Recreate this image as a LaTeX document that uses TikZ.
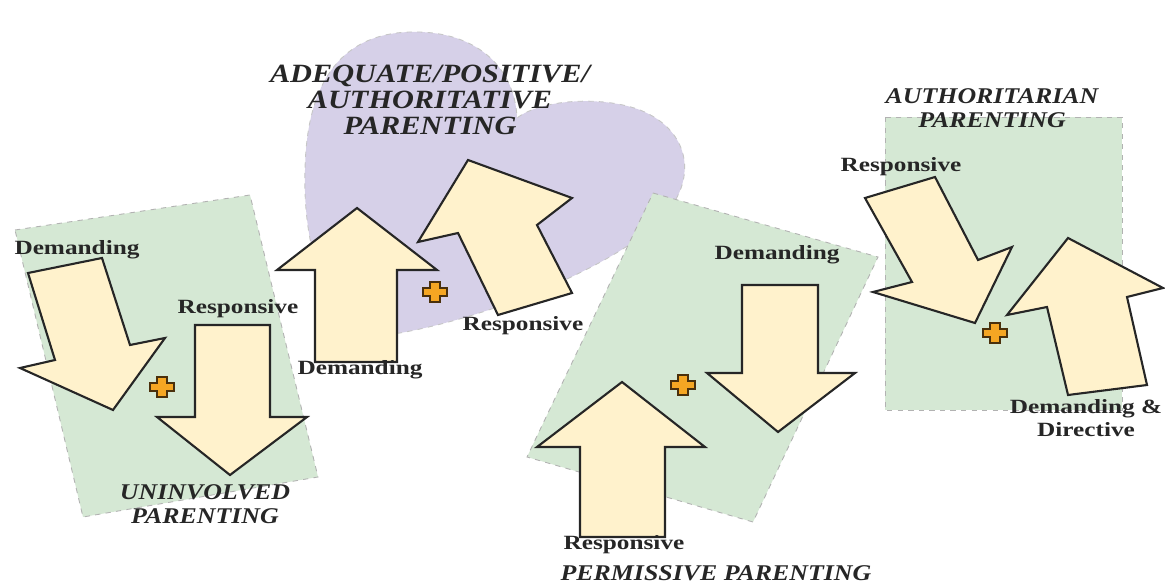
\documentclass[tikz,border=0pt]{standalone}
\usepackage{fontspec}
\setmainfont{Liberation Serif}
\newfontfamily\labelfont[FakeStretch=1.25]{Liberation Serif}
\newfontfamily\titlefont[FakeStretch=1.15]{Liberation Serif}
\usetikzlibrary{positioning}
\definecolor{boxgreen}{HTML}{D5E8D4}
\definecolor{heartlilac}{HTML}{D6D0E8}
\definecolor{arrowcream}{HTML}{FFF2CC}
\definecolor{plusorange}{HTML}{F5A623}
\definecolor{plusbrown}{HTML}{4A300C}
\tikzset{x=0.02cm,y=-0.02cm}
\tikzset{group box/.style={fill=boxgreen,draw=gray!60,dashed,line width=0.5pt}}
\tikzset{big arrow/.style={fill=arrowcream,draw=black!85,line width=1.2pt,line join=miter}}
\tikzset{arrow label/.style={font=\labelfont\bfseries\fontsize{11.5}{13.5}\selectfont,text=black!85,inner sep=0pt,align=center}}
\tikzset{style label/.style={font=\titlefont\bfseries\itshape\fontsize{12.8}{13.5}\selectfont,text=black!85,inner sep=0pt,align=center}}
\tikzset{plus sign/.pic={
  \filldraw[fill=plusorange,draw=plusbrown,line width=0.9pt]
    (-12,-4) -- (-5,-4) -- (-5,-10) -- (5,-10) -- (5,-4) -- (12,-4) -- (12,4)
    -- (5,4) -- (5,10) -- (-5,10) -- (-5,4) -- (-12,4) -- cycle;}}

\begin{document}
\begin{tikzpicture}
  \useasboundingbox (0,0) rectangle (1165,584);
  % backgrounds
  \draw[group box] (15,230) -- (250,195) -- (318,477) -- (83,517) -- cycle;
  \draw[fill=heartlilac,draw=gray!45,dashed,line width=0.5pt]
    (350,338) .. controls (320,290) and (303,240) .. (305,170)
    .. controls (307,60) and (360,30) .. (420,32)
    .. controls (480,34) and (515,70) .. (517,118)
    .. controls (540,100) and (600,95) .. (640,110)
    .. controls (690,130) and (700,180) .. (660,220)
    .. controls (620,262) and (500,315) .. (400,333) -- cycle;
  \draw[group box] (653,193) -- (878,257) -- (753,522) -- (527,457) -- cycle;
  \draw[group box] (885,117) rectangle (1122,410);
  % uninvolved
  \draw[big arrow] (28,273) -- (102,258) -- (130,345) -- (165,338) -- (113,410) -- (20,368) -- (55,360) -- cycle;
  \draw[big arrow] (195,325) -- (270,325) -- (270,417) -- (307,417) -- (230,475) -- (157,417) -- (195,417) -- cycle;
  \pic at (162,387) {plus sign};
  \node[arrow label] (udem) at (77,250) {Demanding};
  \node[arrow label] (uresp) at (238,309) {Responsive};
  \node[style label] (utitle) at (205,504) {UNINVOLVED\\PARENTING};
  % adequate
  \draw[big arrow] (315,362) -- (315,270) -- (277,270) -- (357,208) -- (437,270) -- (397,270) -- (397,362) -- cycle;
  \draw[big arrow] (498,315) -- (458,233) -- (418,242) -- (468,160) -- (572,198) -- (537,225) -- (572,293) -- cycle;
  \pic at (435,292) {plus sign};
  \node[arrow label] (adem) at (360,370) {Demanding};
  \node[arrow label] (aresp) at (523,326) {Responsive};
  \node[style label,font=\titlefont\bfseries\itshape\fontsize{15}{14.7}\selectfont] (atitle) at (430,100)
    {ADEQUATE/POSITIVE/\\AUTHORITATIVE\\PARENTING};
  % permissive
  \draw[big arrow] (742,285) -- (818,285) -- (818,373) -- (855,373) -- (778,432) -- (707,373) -- (742,373) -- cycle;
  \draw[big arrow] (580,537) -- (580,447) -- (537,447) -- (622,382) -- (705,447) -- (665,447) -- (665,537) -- cycle;
  \pic at (683,385) {plus sign};
  \node[arrow label] (pdem) at (777,255) {Demanding};
  \node[arrow label] (presp) at (624,545) {Responsive};
  \node[style label] (ptitle) at (716,573) {PERMISSIVE PARENTING};
  % authoritarian
  \draw[big arrow] (865,198) -- (935,177) -- (978,260) -- (1012,247) -- (975,323) -- (873,292) -- (912,282) -- cycle;
  \draw[big arrow] (1068,238) -- (1163,288) -- (1127,297) -- (1147,385) -- (1068,395) -- (1047,307) -- (1007,315) -- cycle;
  \pic at (995,333) {plus sign};
  \node[arrow label] (rresp) at (901,167) {Responsive};
  \node[arrow label] (rdem) at (1086,418) {Demanding \&\\Directive};
  \node[style label] (rtitle) at (992,108) {AUTHORITARIAN\\PARENTING};
\end{tikzpicture}
\end{document}
